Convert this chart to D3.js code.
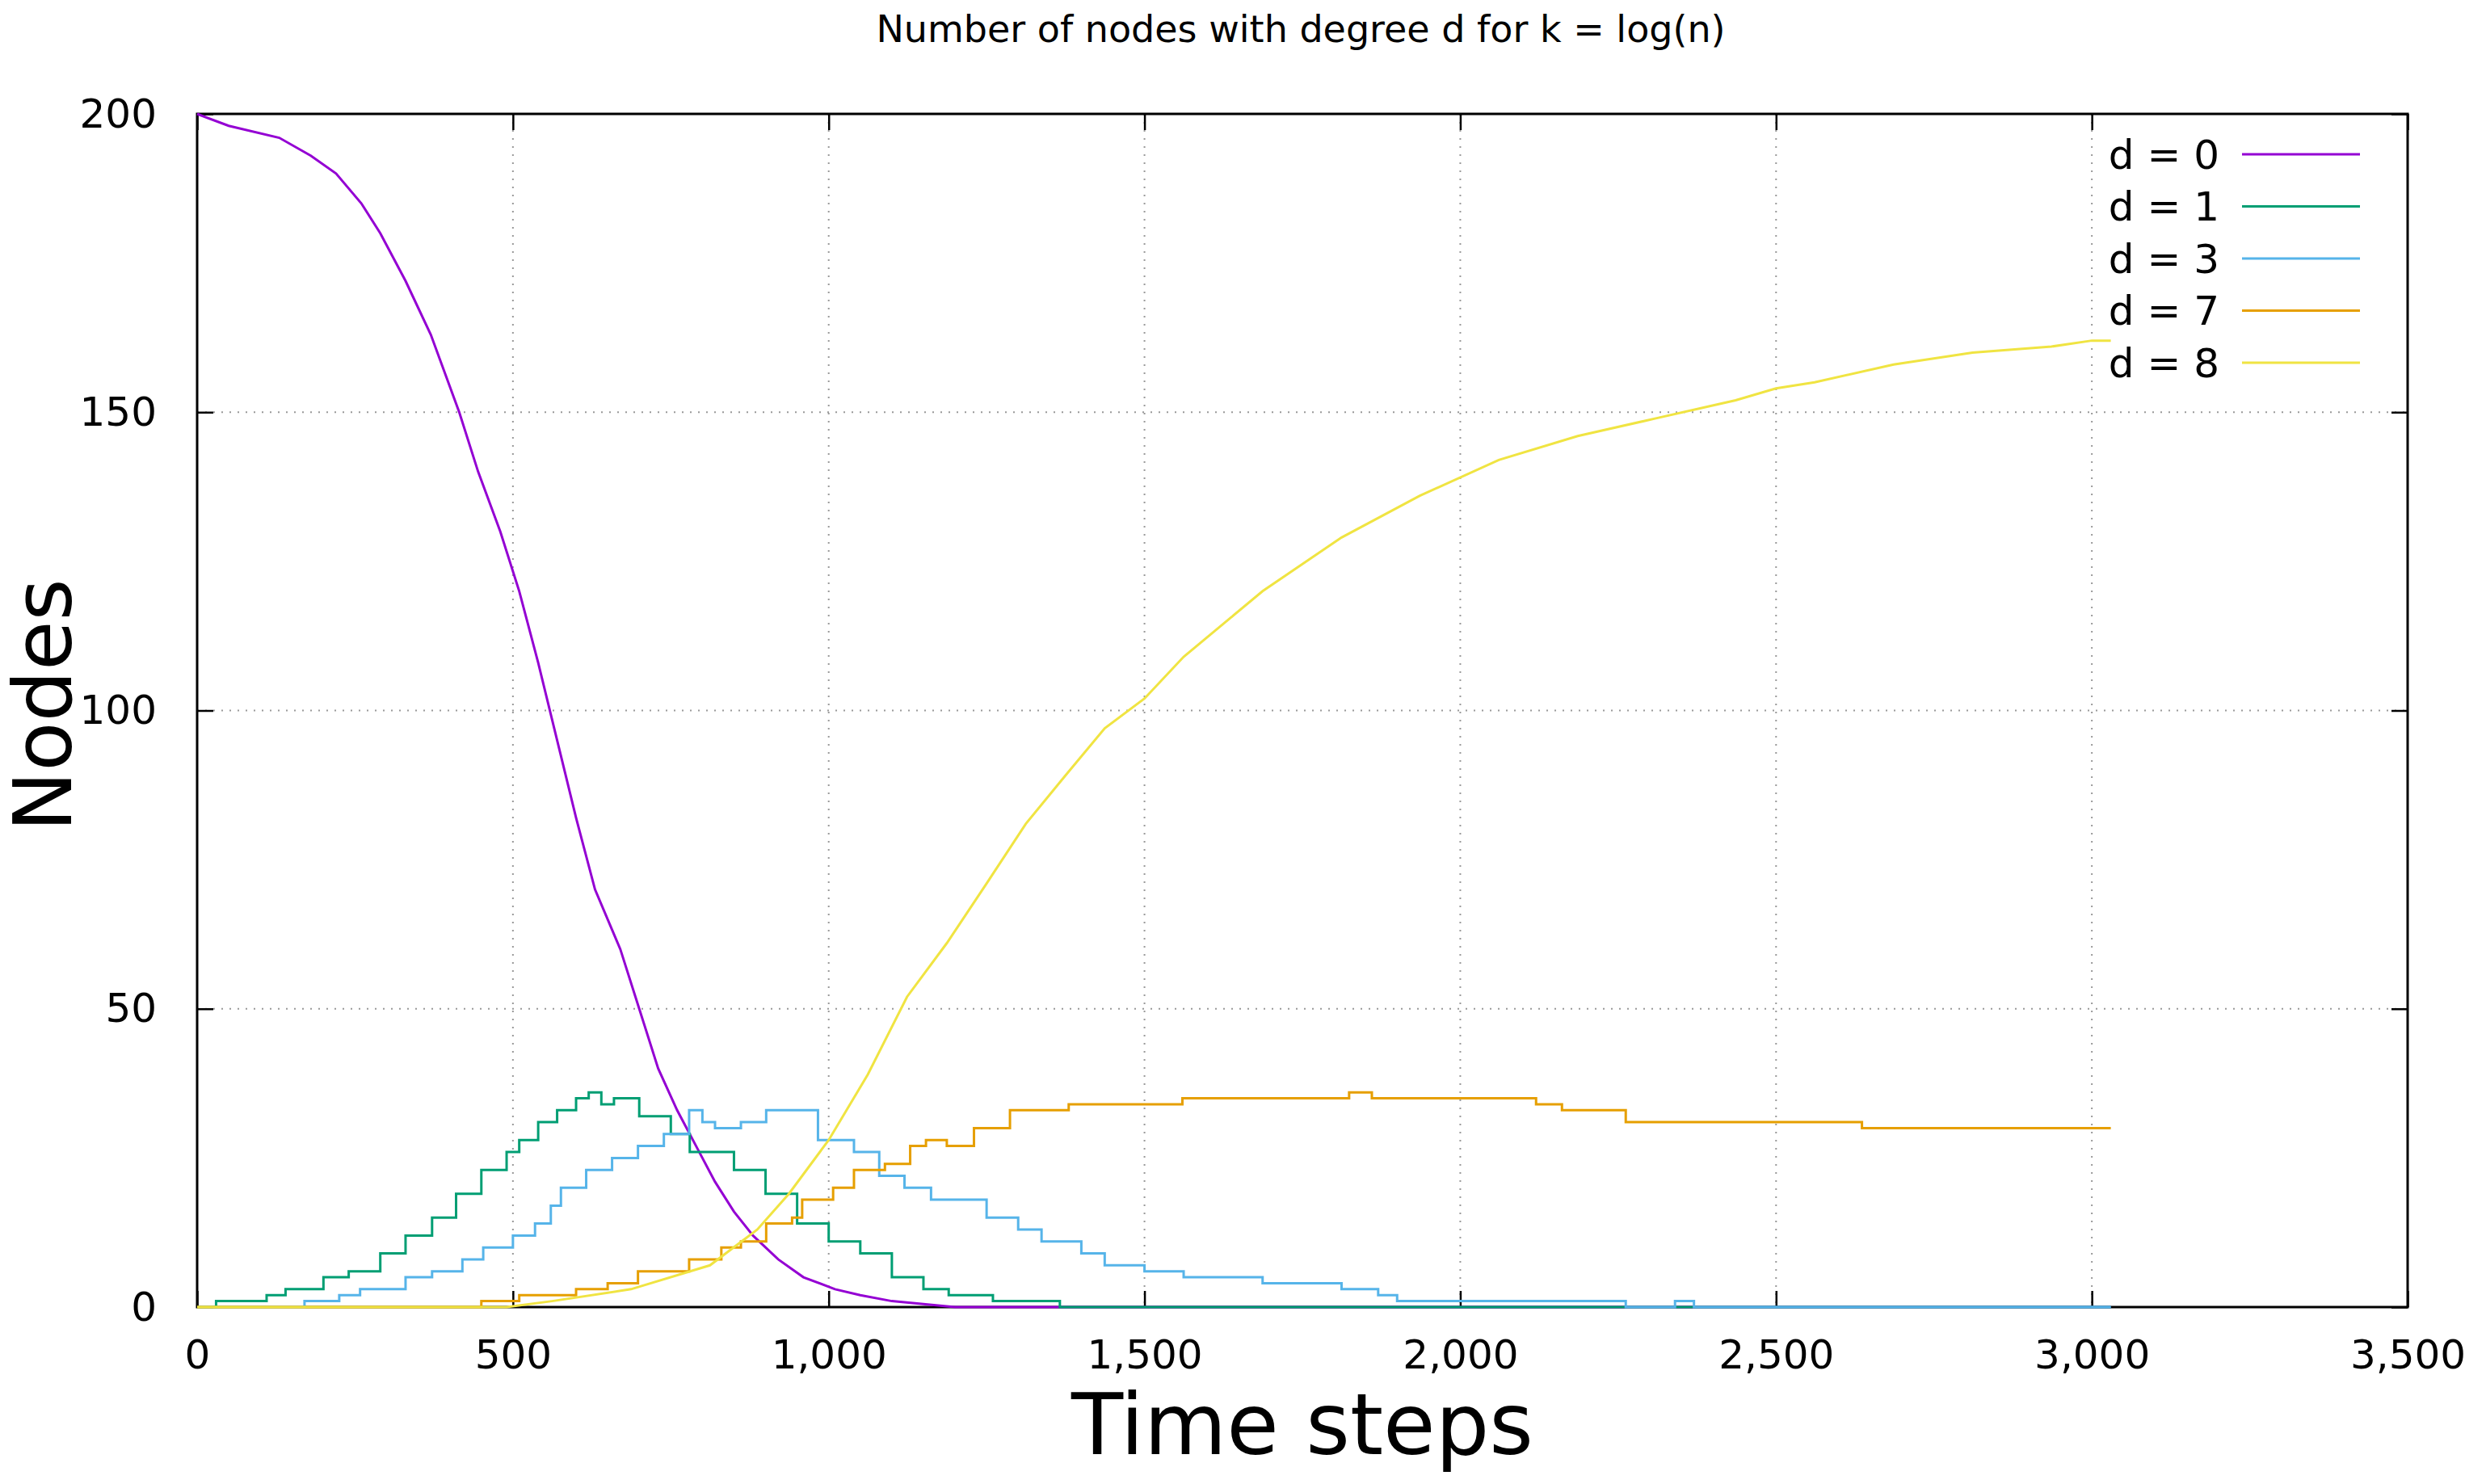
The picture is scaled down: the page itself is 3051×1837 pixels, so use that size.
<!DOCTYPE html>
<html><head><meta charset="utf-8">
<script src="https://d3js.org/d3.v7.min.js"></script>
<style>body{margin:0;background:#fff}svg{display:block}text{font-family:"DejaVu Sans",sans-serif}</style>
</head><body>
<svg id="s1" width="3051" height="1837"></svg>
<script>
var xTicks = [0, 500, 1000, 1500, 2000, 2500, 3000, 3500];
var yTicks = [0, 50, 100, 150, 200];
var labels = ["d = 0", "d = 1", "d = 3", "d = 7", "d = 8"];
var colors = ["#9400d3", "#009e73", "#56b4e9", "#e69f00", "#f0e442"];

// [time step, nodes]
var d0 = [[0,200],[50,198],[130,196],[180,193],[220,190],[260,185],[290,180],[330,172],[370,163],[415,150],[445,140],[480,130],[510,120],[540,108],[570,95],[600,82],[630,70],[670,60],[700,50],[730,40],[760,33],[790,27],[820,21],[850,16],[880,12],[920,8],[960,5],[1010,3],[1050,2],[1100,1],[1200,0],[3030,0]];
var d1 = [[0,0],[30,1],[110,2],[140,3],[200,5],[240,6],[290,9],[330,12],[372,15],[410,19],[450,23],[490,26],[510,28],[540,31],[570,33],[600,35],[620,36],[640,34],[660,35],[700,32],[750,29],[780,26],[850,23],[900,19],[950,14],[1000,11],[1050,9],[1100,5],[1150,3],[1190,2],[1260,1],[1366,0],[3030,0]];
var d3s = [[0,0],[170,1],[225,2],[258,3],[330,5],[372,6],[420,8],[453,10],[500,12],[535,14],[560,17],[576,20],[616,23],[657,25],[698,27],[739,29],[779,33],[800,31],[820,30],[861,31],[901,33],[958,33],[983,28],[1040,26],[1080,22],[1120,20],[1162,18],[1250,15],[1300,13],[1337,11],[1400,9],[1437,7],[1500,6],[1562,5],[1687,4],[1812,3],[1870,2],[1900,1],[2262,0],[2340,1],[2370,0],[3030,0]];
var d7 = [[0,0],[450,1],[510,2],[600,3],[650,4],[698,6],[779,8],[830,10],[861,11],[901,14],[942,15],[958,18],[1007,20],[1040,23],[1089,24],[1129,27],[1154,28],[1187,27],[1230,30],[1287,33],[1380,34],[1437,34],[1560,35],[1687,35],[1824,36],[1860,35],[2040,35],[2120,34],[2161,33],[2262,31],[2636,30],[3030,30]];
var d8 = [[0,0],[490,0],[562,1],[687,3],[812,7],[887,13],[937,19],[1000,28],[1062,39],[1124,52],[1187,61],[1250,71],[1312,81],[1374,89],[1437,97],[1500,102],[1562,109],[1687,120],[1812,129],[1936,136],[2061,142],[2186,146],[2311,149],[2436,152],[2500,154],[2561,155],[2686,158],[2811,160],[2936,161],[3000,162],[3030,162]];
var series = [d0, d1, d3s, d7, d8];

var svg = d3.select("#s1");
var L = 244, R = 2980, T = 141, B = 1618;
var x = d3.scaleLinear().domain([0, 3500]).range([L, R]);
var y = d3.scaleLinear().domain([0, 200]).range([B, T]);

// grid
svg.append("g").selectAll("line").data(xTicks.slice(1, -1)).join("line")
  .attr("x1", d => x(d)).attr("x2", d => x(d)).attr("y1", T).attr("y2", B)
  .attr("stroke", "#999").attr("stroke-width", 2).attr("stroke-dasharray", "2,8");
svg.append("g").selectAll("line").data(yTicks.slice(1, -1)).join("line")
  .attr("y1", d => y(d)).attr("y2", d => y(d)).attr("x1", L).attr("x2", R)
  .attr("stroke", "#999").attr("stroke-width", 2).attr("stroke-dasharray", "2,8");

// axes, ticks on all sides
var ax = svg.append("g").attr("transform", "translate(0," + B + ")")
  .call(d3.axisBottom(x).tickValues(xTicks).tickSize(-20).tickPadding(40));
var axT = svg.append("g").attr("transform", "translate(0," + T + ")")
  .call(d3.axisTop(x).tickValues(xTicks).tickSize(-20).tickFormat(""));
var ay = svg.append("g").attr("transform", "translate(" + L + ",0)")
  .call(d3.axisLeft(y).tickValues(yTicks).tickSize(-20).tickPadding(50));
var ayR = svg.append("g").attr("transform", "translate(" + R + ",0)")
  .call(d3.axisRight(y).tickValues(yTicks).tickSize(-20).tickFormat(""));
[ax, axT, ay, ayR].forEach(g => {
  g.selectAll("path").remove();
  g.selectAll("line").attr("stroke", "#000").attr("stroke-width", 2.5);
  g.selectAll("text").attr("font-size", 50).attr("font-family", "DejaVu Sans").attr("fill", "#000");
});
svg.append("rect").attr("x", L).attr("y", T).attr("width", R - L).attr("height", B - T)
  .attr("fill", "none").attr("stroke", "#000").attr("stroke-width", 3);

// lines
var line = d3.line().x(d => x(d[0])).y(d => y(d[1])).curve(d3.curveStepAfter);
var lineSmooth = d3.line().x(d => x(d[0])).y(d => y(d[1]));
svg.append("g").selectAll("path").data(series).join("path")
  .attr("d", (d, i) => (i == 0 || i == 4) ? lineSmooth(d) : line(d))
  .attr("fill", "none").attr("stroke", (d, i) => colors[i]).attr("stroke-width", 3);

// legend
var lg = svg.append("g").selectAll("g").data(labels).join("g")
  .attr("transform", (d, i) => "translate(0," + (191 + i * 64.5) + ")");
lg.append("text").attr("x", 2747).attr("dy", "0.35em").attr("text-anchor", "end")
  .attr("font-size", 50).text(d => d);
lg.append("line").attr("x1", 2775).attr("x2", 2921)
  .attr("stroke", (d, i) => colors[i]).attr("stroke-width", 3);

// titles
svg.append("text").attr("x", 1610).attr("y", 52).attr("text-anchor", "middle")
  .attr("font-size", 46).text("Number of nodes with degree d for k = log(n)");
svg.append("text").attr("x", 1612).attr("y", 1800).attr("text-anchor", "middle")
  .attr("font-size", 105).text("Time steps");
svg.append("text").attr("transform", "translate(88,873) rotate(-90)").attr("text-anchor", "middle")
  .attr("font-size", 100).text("Nodes");
</script>
</body></html>
